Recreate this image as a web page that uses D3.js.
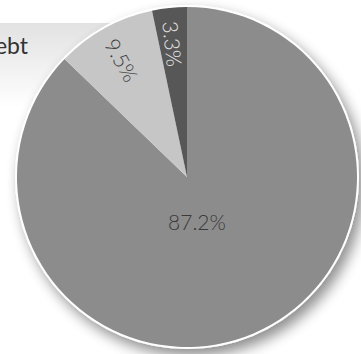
<!DOCTYPE html>
<html>
<head>
<meta charset="utf-8">
<script src="https://cdn.jsdelivr.net/npm/d3@7"></script>
<style>
  html, body { margin: 0; padding: 0; background: #fff; overflow: hidden; }
  svg { display: block; }
</style>
</head>
<body>
<div id="container"></div>
<script>
// data
var categories = ["Equity", "Other", "Cash"];
var values = [87.2, 9.5, 3.3];
var labels = ["87.2%", "9.5%", "3.3%"];
var legendTitle = "Debt";

var width = 361, height = 354;
var cx = 187, cy = 177, radius = 170;

var svg = d3.select("div#container").append("svg")
  .attr("width", width).attr("height", height);

var defs = svg.append("defs");

// soft shadow under the pie
var shadow = defs.append("filter").attr("id", "shadow")
  .attr("x", "-20%").attr("y", "-20%").attr("width", "140%").attr("height", "140%");
shadow.append("feGaussianBlur").attr("in", "SourceAlpha").attr("stdDeviation", 7).attr("result", "blur");
shadow.append("feOffset").attr("in", "blur").attr("dx", 5).attr("dy", 7).attr("result", "off");
shadow.append("feComponentTransfer").attr("in", "off").attr("result", "soft")
  .append("feFuncA").attr("type", "linear").attr("slope", 0.45);
var merge = shadow.append("feMerge");
merge.append("feMergeNode").attr("in", "soft");
merge.append("feMergeNode").attr("in", "SourceGraphic");

// band behind the legend title
var grad = defs.append("linearGradient").attr("id", "band")
  .attr("x1", 0).attr("y1", 0).attr("x2", 0).attr("y2", 1);
grad.append("stop").attr("offset", "0%").attr("stop-color", "#e2e2e2");
grad.append("stop").attr("offset", "35%").attr("stop-color", "#ececec");
grad.append("stop").attr("offset", "100%").attr("stop-color", "#ffffff");

svg.append("rect")
  .attr("x", 0).attr("y", 23).attr("width", 200).attr("height", 85)
  .attr("fill", "url(#band)");

svg.append("text")
  .attr("x", 28).attr("y", 54)
  .attr("text-anchor", "end")
  .style("font-family", "Lato, 'Open Sans', sans-serif")
  .style("font-size", "23px")
  .style("fill", "#333")
  .text(legendTitle);

var colors = d3.scaleOrdinal().domain(categories).range(["#8c8c8c", "#c6c6c6", "#575757"]);
var textColors = d3.scaleOrdinal().domain(categories).range(["#3a3a3a", "#3a3a3a", "#e4e4e4"]);

var pie = d3.pie().sort(null).value(function(d) { return d; });
var arcs = pie(values);
var arc = d3.arc().innerRadius(0).outerRadius(radius);

var g = svg.append("g").attr("transform", "translate(" + cx + "," + cy + ")");

g.append("circle").attr("r", radius + 2).attr("fill", "#fff").attr("filter", "url(#shadow)");

g.selectAll("path.slice")
  .data(arcs)
  .enter().append("path")
  .attr("class", "slice")
  .attr("d", arc)
  .attr("fill", function(d, i) { return colors(categories[i]); });

// labels: biggest slice flat near the centre, small ones along the radius
g.selectAll("text.lbl")
  .data(arcs)
  .enter().append("text")
  .attr("class", "lbl")
  .attr("text-anchor", "middle")
  .attr("dominant-baseline", "central")
  .style("font-family", "Lato, 'Open Sans', sans-serif")
  .style("font-weight", 300)
  .style("font-size", "21px")
  .style("fill", function(d, i) { return textColors(categories[i]); })
  .attr("transform", function(d, i) {
    var mid = (d.startAngle + d.endAngle) / 2;
    if (i === 0) {
      return "translate(10,44)";
    }
    var r = 134;
    var x = Math.sin(mid) * r, y = -Math.cos(mid) * r;
    var rot = mid * 180 / Math.PI + 90; // reads inward
    return "translate(" + x + "," + y + ") rotate(" + rot + ")";
  })
  .text(function(d, i) { return labels[i]; });
</script>
</body>
</html>
